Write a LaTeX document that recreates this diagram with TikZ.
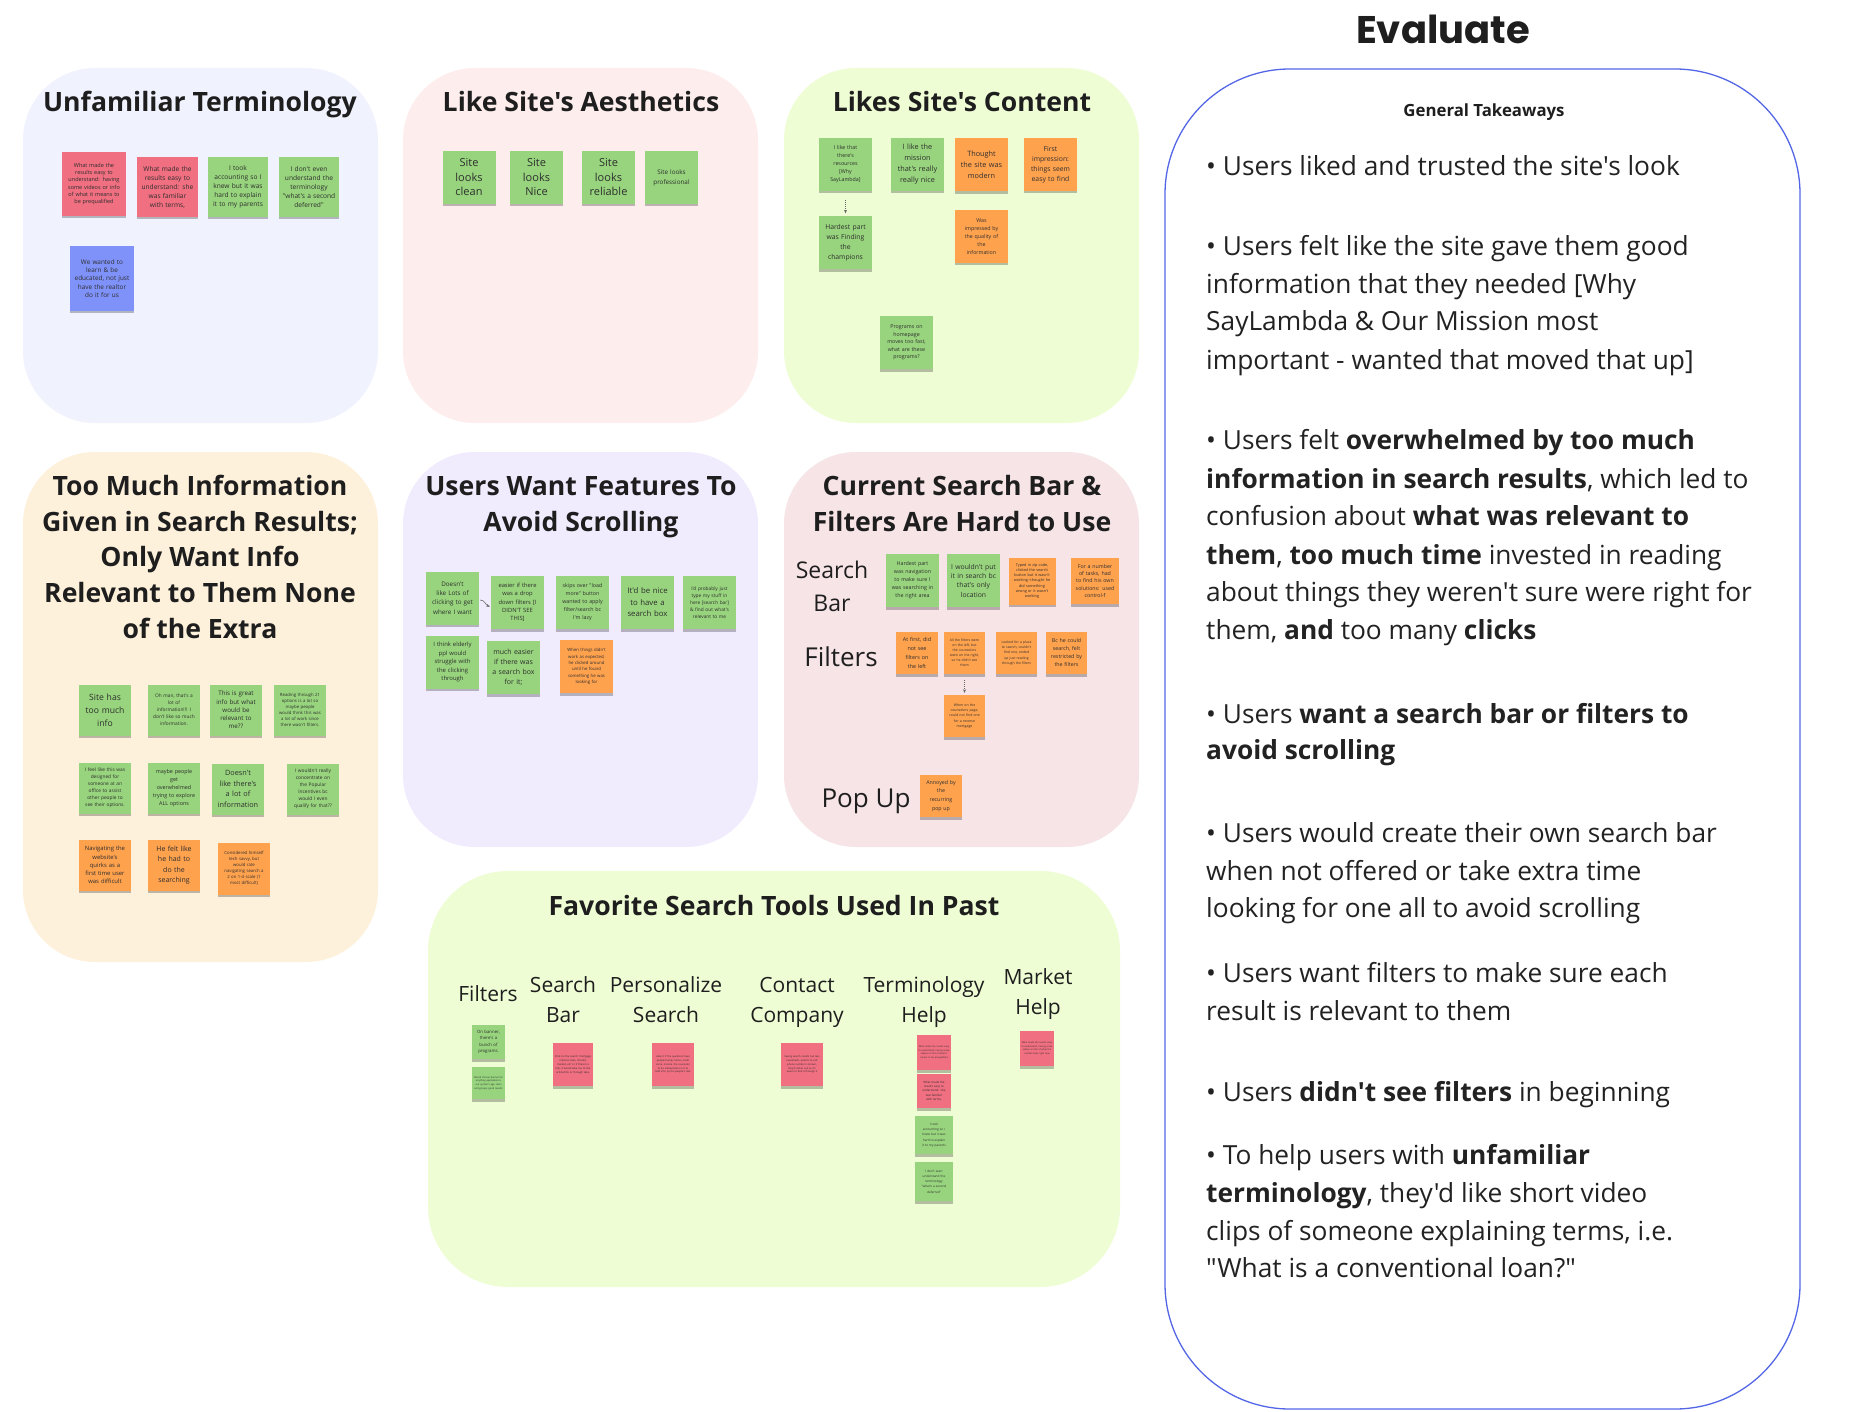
\documentclass[tikz,border=0pt]{standalone}
\usepackage{fontspec}
\setmainfont{Open Sans}[Ligatures=TeXOff]
\newfontfamily\poppins{Poppins}
\usetikzlibrary{shadows,arrows.meta}
\hyphenpenalty=10000
\exhyphenpenalty=10000
\definecolor{ngreen}{HTML}{97D47D}
\definecolor{npink}{HTML}{F06F80}
\definecolor{norange}{HTML}{FFA24E}
\definecolor{nblue}{HTML}{7F92F9}
\definecolor{ntext}{HTML}{2E2E2E}
\definecolor{titlecol}{HTML}{1E1E1E}
\definecolor{bodycol}{HTML}{222222}
\definecolor{bA}{HTML}{F0F2FE}
\definecolor{bB}{HTML}{FEEDED}
\definecolor{bC}{HTML}{EFFDD5}
\definecolor{bD}{HTML}{FEF1DB}
\definecolor{bE}{HTML}{F1EBFE}
\definecolor{bF}{HTML}{F6E4E6}
\definecolor{bordercol}{HTML}{5366E6}
\tikzset{
  fs/.style 2 args={font=\fontsize{#1}{#2}\selectfont},
  note/.style={rectangle, inner xsep=1pt, inner ysep=0pt, align=center, text=ntext,
    drop shadow={shadow xshift=0pt, shadow yshift=-2.5pt, opacity=0.25, fill=black}},
  panel/.style={rounded corners=72pt},
  title/.style={font=\bfseries\fontsize{26.6}{35}\selectfont, text=titlecol, anchor=base, inner sep=0pt},
  lab/.style={font=\fontsize{23}{30}\selectfont, text=titlecol, anchor=base, inner sep=0pt},
  labbig/.style={font=\fontsize{26}{30}\selectfont, text=titlecol, anchor=base, inner sep=0pt},
  lab2/.style={font=\fontsize{21}{30}\selectfont, text=titlecol, anchor=base, inner sep=0pt},
  body/.style={font=\fontsize{26.3}{30}\selectfont, text=bodycol, anchor=base west, inner sep=0pt},
  conn/.style={draw=black!60, line width=0.6pt, dash pattern=on 1.2pt off 0.8pt,
    -{Stealth[length=3.5pt,width=3pt]}},
}
\newcommand\stk[8]{%
  \pgfmathsetmacro\stkw{#5-2}%
  \node[note, fill=#2, minimum width=#5pt, minimum height=#6pt, text width=\stkw pt, #7] (#1) at (#3,#4) {#8};}
\begin{document}
\begin{tikzpicture}[x=1pt,y=-1pt]
\useasboundingbox (0,0) rectangle (1849,1412);
\fill[white] (0,0) rectangle (1849,1412);
% panels
\fill[bA, panel] (23,68) rectangle (378,423);
\fill[bB, panel] (403,68) rectangle (758,423);
\fill[bC, panel] (784,68) rectangle (1139,423);
\fill[bD, panel] (23,452) rectangle (378,962);
\fill[bE, panel] (403,452) rectangle (758,847);
\fill[bF, panel] (784,452) rectangle (1139,847);
\fill[bC, rounded corners=80pt] (428,871) rectangle (1120,1287);
\draw[bordercol, line width=1.3pt, rounded corners=125pt] (1165,69) rectangle (1800,1409);

% titles
\node[title] (tA) at (200,112) {Unfamiliar Terminology};
\node[title] (tB) at (581,112) {Like Site's Aesthetics};
\node[title] (tC) at (962,112) {Likes Site's Content};
\node[title] (tD1) at (200,495.4) {Too Much Information};
\node[title] (tD2) at (200,531.1) {Given in Search Results;};
\node[title] (tD3) at (200,566.8) {Only Want Info};
\node[title] (tD4) at (200,602.5) {Relevant to Them None};
\node[title] (tD5) at (200,638.2) {of the Extra};
\node[title] (tE1) at (581,495) {Users Want Features To};
\node[title] (tE2) at (581,531) {Avoid Scrolling};
\node[title] (tF1) at (962,495) {Current Search Bar \&};
\node[title] (tF2) at (962,531) {Filters Are Hard to Use};
\node[title] (tG) at (774,915) {Favorite Search Tools Used In Past};

% box A notes
\stk{a1}{npink}{94}{184}{64}{64}{fs={5.5}{7.3}}{What made the\\results easy to\\understand: having\\some videos or info\\of what it means to\\be prequalified}
\stk{a2}{npink}{167.5}{187}{61}{60}{fs={6.6}{9}}{What made the\\results easy to\\understand: she\\was familiar\\with terms,}
\stk{a3}{ngreen}{238}{187}{60}{60}{fs={6.6}{9}}{I took\\accounting so I\\knew but it was\\hard to explain\\it to my parents}
\stk{a4}{ngreen}{309}{187}{60}{60}{fs={6.6}{9}}{I don't even\\understand the\\terminology\\"what's a second\\deferred"}
\stk{a5}{nblue}{102}{278.5}{64}{65}{fs={6.4}{8.3}}{We wanted to\\learn \& be\\educated, not just\\have the realtor\\do it for us}

% box B notes
\stk{b1}{ngreen}{469}{177.5}{53}{53}{fs={11}{14.5}}{Site\\looks\\clean}
\stk{b2}{ngreen}{536.5}{177.5}{53}{53}{fs={11}{14.5}}{Site\\looks\\Nice}
\stk{b3}{ngreen}{608.5}{177.5}{53}{53}{fs={11}{14.5}}{Site\\looks\\reliable}
\stk{b4}{ngreen}{671.5}{177.5}{53}{53}{fs={6.3}{10}}{Site looks\\professional}

% box C notes
\stk{c1}{ngreen}{845.5}{164.5}{53}{53}{fs={5.3}{8}}{I like that\\there's\\resources\\{[Why}\\SayLambda]}
\stk{c2}{ngreen}{917.5}{164.5}{53}{53}{fs={7.3}{11}}{I like the\\mission\\that's really\\really nice}
\stk{c3}{norange}{981.5}{165}{53}{53}{fs={7.3}{11}}{Thought\\the site was\\modern}
\stk{c4}{norange}{1050.5}{164.5}{53}{53}{fs={6.8}{10}}{First\\impression:\\things seem\\easy to find}
\stk{c5}{ngreen}{845.5}{243}{53}{53}{fs={6.8}{10}}{Hardest part\\was Finding\\the\\champions}
\stk{c6}{norange}{981.5}{236.5}{53}{53}{fs={5.3}{8}}{Was\\impressed by\\the quality of\\the\\information}
\stk{c7}{ngreen}{906.5}{342.5}{53}{53}{fs={5.3}{7.5}}{Programs on\\homepage\\moves too fast,\\what are these\\programs?}
\draw[conn] ([yshift=-9pt]c1.south) -- ([yshift=3pt]c5.north);

% box D notes
\stk{d1}{ngreen}{105}{710}{52}{51}{fs={8.6}{13}}{Site has\\too much\\info}
\stk{d2}{ngreen}{174}{710}{52}{51}{fs={4.8}{6.9}}{Oh man, that's a\\lot of\\information!!! I\\don't like so much\\information.}
\stk{d3}{ngreen}{236}{710}{52}{51}{fs={6.2}{8.2}}{This is great\\info but what\\would be\\relevant to\\me??}
\stk{d4}{ngreen}{300}{710}{52}{51}{fs={4.3}{6}}{Reading through 21\\options is a lot so\\maybe people\\would think this was\\a lot of work since\\there wasn't filters.}
\stk{d5}{ngreen}{105}{788}{52}{51}{fs={4.8}{7}}{I feel like this was\\designed for\\someone at an\\office to assist\\other people to\\see their options.}
\stk{d6}{ngreen}{174}{788}{52}{51}{fs={5.4}{7.8}}{maybe people\\get\\overwhelmed\\trying to explore\\ALL options}
\stk{d7}{ngreen}{238}{789}{52}{51}{fs={7.3}{10.5}}{Doesn't\\like there's\\a lot of\\information}
\stk{d8}{ngreen}{313}{789}{52}{51}{fs={4.8}{7}}{I wouldn't really\\concentrate on\\the Popular\\Incentives bc\\would I even\\qualify for that??}
\stk{d9}{norange}{105}{865}{52}{51}{fs={5.9}{8.2}}{Navigating the\\website's\\quirks as a\\first time user\\was difficult}
\stk{d10}{norange}{174}{865}{52}{51}{fs={7}{10.5}}{He felt like\\he had to\\do the\\searching}
\stk{d11}{norange}{244}{868.5}{52}{52}{fs={4.3}{6}}{Considered himself\\tech savvy, but\\would rate\\navigating search a\\2 on 1-4 scale (1\\most difficult)}

% box E notes
\stk{e1}{ngreen}{452.5}{598}{53}{53}{fs={6.3}{9.2}}{Doesn't\\like Lots of\\clicking to get\\where I want}
\stk{e2}{ngreen}{517.5}{602.5}{53}{53}{fs={5.8}{8.3}}{easier if there\\was a drop\\down filters [I\\DIDN'T SEE\\THIS]}
\stk{e3}{ngreen}{582.5}{602.5}{53}{53}{fs={5.3}{8}}{skips over "load\\more" button\\wanted to apply\\filter/search bc\\I'm lazy}
\stk{e4}{ngreen}{647.5}{602.5}{53}{53}{fs={7.8}{11.5}}{It'd be nice\\to have a\\search box}
\stk{e5}{ngreen}{709.5}{602.5}{53}{53}{fs={4.8}{7}}{I'd probably just\\type my stuff in\\here [search bar]\\\& find out what's\\relevant to me}
\stk{e6}{ngreen}{452.5}{662}{53}{53}{fs={5.9}{8.5}}{I think elderly\\ppl would\\struggle with\\the clicking\\through}
\stk{e7}{ngreen}{513.5}{667.5}{53}{53}{fs={7}{10}}{much easier\\if there was\\a search box\\for it;}
\stk{e8}{norange}{586.5}{666.5}{53}{53}{fs={4.3}{6.3}}{When things didn't\\work as expected,\\he clicked around\\until he found\\something he was\\looking for}
\draw[conn, dash pattern=] ([xshift=1pt,yshift=-2pt]e1.east) to[out=0,in=160] ([xshift=-1pt,yshift=-4pt]e2.west);

% box F labels and notes
\node[lab] (fs1) at (832,578) {Search};
\node[lab] (fs2) at (832,611) {Bar};
\node[labbig] (ff) at (841,666) {Filters};
\node[labbig] (fp) at (866,807) {Pop Up};
\stk{f1}{ngreen}{912.5}{580.5}{53}{53}{fs={5.3}{8}}{Hardest part\\was navigation\\to make sure I\\was searching in\\the right area}
\stk{f2}{ngreen}{973.5}{580.5}{53}{53}{fs={6.8}{9.3}}{I wouldn't put\\it in search bc\\that's only\\location}
\stk{f3}{norange}{1032}{581}{47}{47}{fs={3.8}{5.3}}{Typed in zip code,\\clicked the search\\button but it wasn't\\working--thought he\\did something\\wrong or it wasn't\\working}
\stk{f4}{norange}{1095}{581}{48}{46}{fs={5.3}{7.3}}{For a number\\of tasks, had\\to find his own\\solutions: used\\control-f}
\stk{f5}{norange}{917}{653}{42}{42}{fs={5.4}{8.8}}{At first, did\\not see\\filters on\\the left}
\stk{f6}{norange}{964.5}{653}{41}{42}{fs={3.4}{5}}{All the filters were\\on the left, but\\the counselors\\were on the right,\\so he didn't see\\them}
\stk{f7}{norange}{1016.5}{653}{41}{42}{fs={3.4}{5.4}}{Looked for a place\\to search, couldn't\\find one, ended\\up just reading\\through the filters}
\stk{f8}{norange}{1066.5}{653}{41}{42}{fs={5.3}{8}}{Bc he could\\search, felt\\restricted by\\the filters}
\stk{f9}{norange}{964.5}{716}{41}{42}{fs={3.5}{5.4}}{When on the\\counselors page,\\could not find one\\for a reverse\\mortgage}
\stk{f10}{norange}{941}{796}{42}{42}{fs={5.3}{8.8}}{Annoyed by\\the\\recurring\\pop up}
\draw[conn] ([yshift=-6pt]f6.south) -- ([yshift=2pt]f9.north);

% box G labels and notes
\node[lab2] (g1) at (488,1001) {Filters};
\node[lab2] (g2a) at (563,992) {Search};
\node[lab2] (g2b) at (563,1022) {Bar};
\node[lab2] (g3a) at (666,992) {Personalize};
\node[lab2] (g3b) at (666,1022) {Search};
\node[lab2] (g4a) at (797,992) {Contact};
\node[lab2] (g4b) at (797,1022) {Company};
\node[lab2] (g5a) at (924,992) {Terminology};
\node[lab2] (g5b) at (924,1022) {Help};
\node[lab2] (g6a) at (1038,984) {Market};
\node[lab2] (g6b) at (1038,1014) {Help};
\stk{h1}{ngreen}{488.5}{1042}{33}{34}{fs={4.3}{6.5}}{On banner,\\there's a\\bunch of\\programs.}
\stk{h2}{ngreen}{488.5}{1083}{33}{32}{fs={2.4}{3.6}}{Would choose banner for anything applicable to our system's age, tools and groups, good results}
\stk{h3}{npink}{573}{1064.5}{40}{43}{fs={2.6}{4}}{Click on the search 'mortgage interest rates, Interest market, etc' or if there's a link, it would take me to the article/link or through tabs.}
\stk{h4}{npink}{673}{1064.5}{42}{43}{fs={2.5}{3.9}}{Likes it if the questions have people handy, home, credit score, income, the counselor to be independent in it to hold info, by the people's role.}
\stk{h5}{npink}{802}{1064.5}{42}{43}{fs={2.5}{3.9}}{Seeing search results has less overwhelm, prefers to call: phone number is known, they'd rather ask so it's easier to find it through it}
\stk{h6}{npink}{934}{1052.5}{34}{35}{fs={2.3}{3.5}}{What made the results easy to understand: having some videos or info of what it means to be prequalified}
\stk{h7}{npink}{934}{1091}{34}{34}{fs={2.9}{4.3}}{What made the\\results easy to\\understand: she\\was familiar\\with terms,}
\stk{h8}{ngreen}{934}{1135}{38}{38}{fs={3.1}{5.2}}{I took\\accounting so I\\knew but it was\\hard to explain\\it to my parents}
\stk{h9}{ngreen}{934}{1181.5}{38}{39}{fs={3.1}{5.2}}{I don't even\\understand the\\terminology\\"what's a second\\deferred"}
\stk{h10}{npink}{1037}{1048.5}{34}{35}{fs={2.3}{3.5}}{What made the results easy to understand: having some videos or info of what the market looks right now}

% right panel
\node[font=\poppins\bfseries\fontsize{38.5}{46}\selectfont, text=titlecol, anchor=base, inner sep=0pt] (ev) at (1443,44) {Evaluate};
\node[font=\bfseries\fontsize{16.8}{20}\selectfont, text=titlecol, anchor=base, inner sep=0pt] (gt) at (1484,117) {General Takeaways};
\node[body] (r1) at (1206,176) {• Users liked and trusted the site's look};
\node[body] (r2) at (1206,256) {• Users felt like the site gave them good};
\node[body] (r3) at (1206,294) {information that they needed [Why};
\node[body] (r4) at (1206,331) {SayLambda \& Our Mission most};
\node[body] (r5) at (1206,370) {important - wanted that moved that up]};
\node[body] (r6) at (1206,449) {• Users felt \textbf{overwhelmed by too much}};
\node[body] (r7) at (1206,488) {\textbf{information in search results}, which led to};
\node[body] (r8) at (1206,525) {confusion about \textbf{what was relevant to}};
\node[body] (r9) at (1206,564) {\textbf{them}, \textbf{too much time} invested in reading};
\node[body] (r10) at (1206,601) {about things they weren't sure were right for};
\node[body] (r11) at (1206,639) {them, \textbf{and} too many \textbf{clicks}};
\node[body] (r12) at (1206,723) {• Users \textbf{want a search bar or filters to}};
\node[body] (r13) at (1206,759) {\textbf{avoid scrolling}};
\node[body] (r14) at (1206,842) {• Users would create their own search bar};
\node[body] (r15) at (1206,880) {when not offered or take extra time};
\node[body] (r16) at (1206,917) {looking for one all to avoid scrolling};
\node[body] (r17) at (1206,982) {• Users want filters to make sure each};
\node[body] (r18) at (1206,1020) {result is relevant to them};
\node[body] (r19) at (1206,1101) {• Users \textbf{didn't see filters} in beginning};
\node[body] (r20) at (1206,1164) {• To help users with \textbf{unfamiliar}};
\node[body] (r21) at (1206,1202) {\textbf{terminology}, they'd like short video};
\node[body] (r22) at (1206,1240) {clips of someone explaining terms, i.e.};
\node[body] (r23) at (1206,1277) {"What is a conventional loan?"};
\end{tikzpicture}
\end{document}
